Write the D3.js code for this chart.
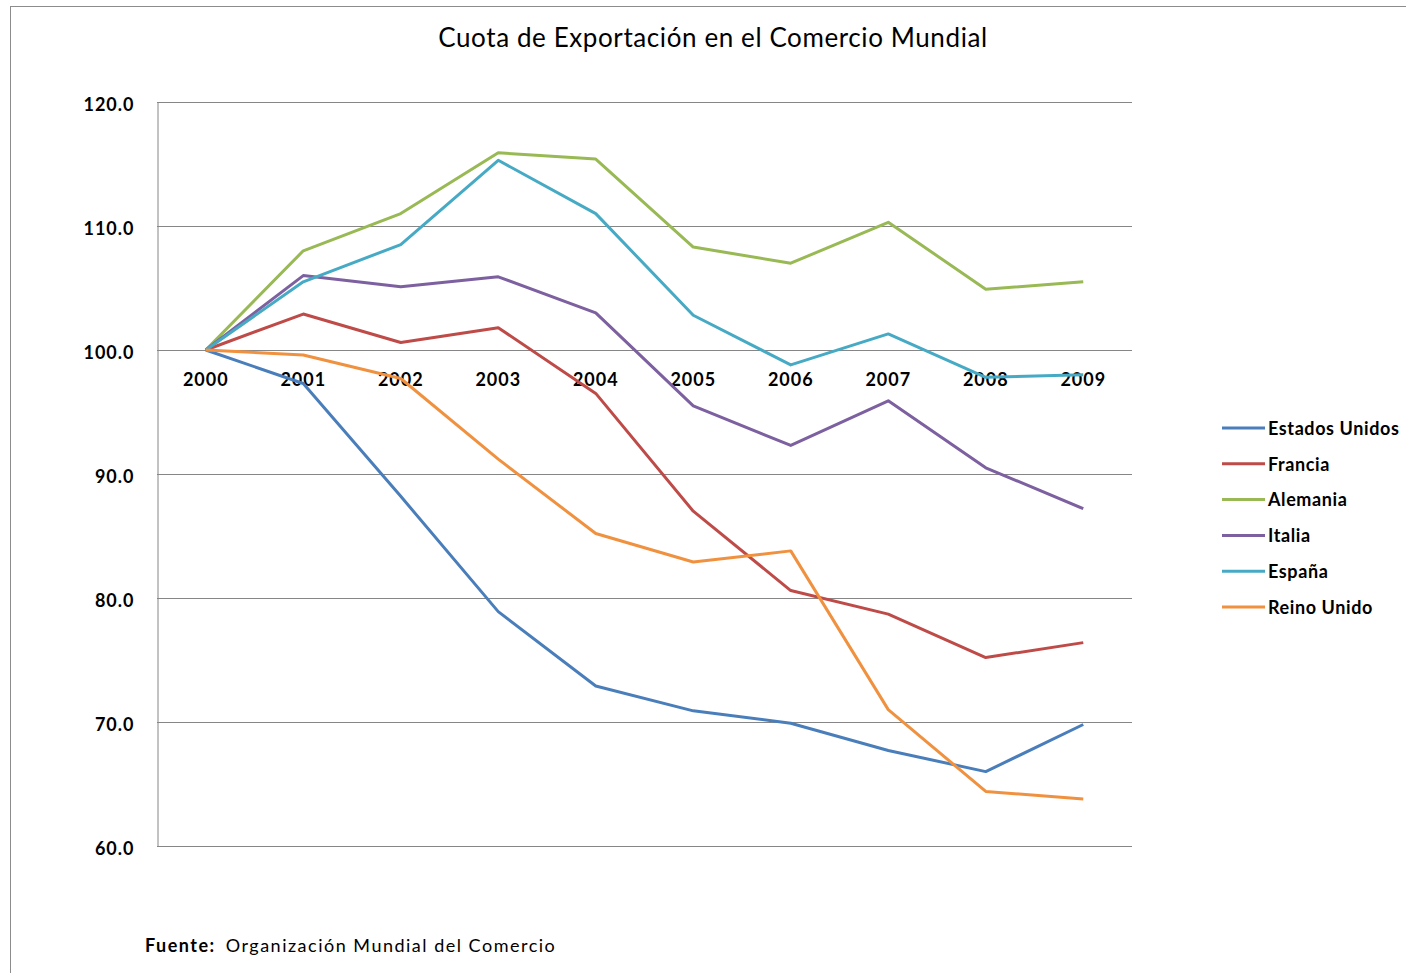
<!DOCTYPE html>
<html>
<head>
<meta charset="utf-8">
<script src="https://cdn.jsdelivr.net/npm/d3@7"></script>
<style>
  body { margin: 0; background: #fff; }
  svg text { font-family: Lato, "Open Sans", sans-serif; fill: #000; }
</style>
</head>
<body>
<div id="chart"></div>
<script>
// data
var years = ["2000","2001","2002","2003","2004","2005","2006","2007","2008","2009"];
var seriesNames = ["Estados Unidos","Francia","Alemania","Italia","España","Reino Unido"];
var seriesColors = ["#4A7EBB","#BE4B48","#98B954","#7D60A0","#46AAC5","#F0913F"];

var estadosUnidos = [100, 97.3, 88.2, 78.9, 72.9, 70.9, 69.9, 67.7, 66.0, 69.8];
var francia       = [100, 102.9, 100.6, 101.8, 96.5, 87.0, 80.6, 78.7, 75.2, 76.4];
var alemania      = [100, 108.0, 111.0, 115.9, 115.4, 108.3, 107.0, 110.3, 104.9, 105.5];
var italia        = [100, 106.0, 105.1, 105.9, 103.0, 95.5, 92.3, 95.9, 90.5, 87.2];
var espana        = [100, 105.5, 108.5, 115.3, 111.0, 102.8, 98.8, 101.3, 97.8, 98.0];
var reinoUnido    = [100, 99.6, 97.7, 91.2, 85.2, 82.9, 83.8, 71.0, 64.4, 63.8];

var yTicks = [60, 70, 80, 90, 100, 110, 120];

var allValues = [estadosUnidos, francia, alemania, italia, espana, reinoUnido];

var width = 1406, height = 973;
var plot = {left: 157, right: 1132, top: 102, bottom: 846};

var svg = d3.select("#chart").append("svg")
    .attr("width", width)
    .attr("height", height);

// outer chart border
svg.append("rect")
    .attr("x", 10.5).attr("y", 6.5)
    .attr("width", 1420).attr("height", 1000)
    .attr("fill", "none")
    .attr("stroke", "#8c8c8c")
    .attr("stroke-width", 1);

var x = d3.scaleBand().domain(years).range([plot.left, plot.right]);
var y = d3.scaleLinear().domain([60, 120]).range([plot.bottom, plot.top]);

// gridlines
svg.append("g")
    .selectAll("line")
    .data(yTicks).enter().append("line")
    .attr("x1", plot.left).attr("x2", plot.right)
    .attr("y1", function(d){ return Math.round(y(d)) + 0.5; })
    .attr("y2", function(d){ return Math.round(y(d)) + 0.5; })
    .attr("stroke", "#868686")
    .attr("stroke-width", 1);

// y axis
var yAxis = svg.append("g")
    .attr("transform", "translate(" + (plot.left + 0.5) + ",0)")
    .call(d3.axisLeft(y).tickValues(yTicks).tickFormat(d3.format(".1f")).tickSize(0).tickPadding(23));
yAxis.select(".domain").attr("stroke", "#868686");
yAxis.selectAll("text")
    .attr("dy", "0.45em")
    .style("font-size", "18px")
    .style("font-weight", "bold")
    .style("letter-spacing", "1px")
    .attr("fill", "#000");

// x axis crosses at 100
var xAxis = svg.append("g")
    .attr("transform", "translate(0," + (Math.round(y(100)) + 0.5) + ")")
    .call(d3.axisBottom(x).tickSize(0).tickPadding(23));
xAxis.select(".domain").remove();
xAxis.selectAll("text")
    .style("font-size", "18px")
    .style("font-weight", "bold")
    .style("letter-spacing", "1px")
    .attr("fill", "#000");

// lines
var line = d3.line()
    .x(function(d, i){ return x(years[i]) + x.bandwidth() / 2; })
    .y(function(d){ return y(d); });

svg.append("g")
    .selectAll("path")
    .data(allValues).enter().append("path")
    .attr("d", line)
    .attr("fill", "none")
    .attr("stroke", function(d, i){ return seriesColors[i]; })
    .attr("stroke-width", 3)
    .attr("stroke-linejoin", "round");

// title
svg.append("text")
    .attr("x", 713).attr("y", 47)
    .attr("text-anchor", "middle")
    .style("font-size", "26px")
    .style("letter-spacing", "0.6px")
    .text("Cuota de Exportación en el Comercio Mundial");

// legend
var legend = svg.append("g")
    .selectAll("g")
    .data(seriesNames).enter().append("g")
    .attr("transform", function(d, i){ return "translate(1222," + (428 + i * 35.8) + ")"; });
legend.append("line")
    .attr("x1", 0).attr("x2", 43)
    .attr("stroke", function(d, i){ return seriesColors[i]; })
    .attr("stroke-width", 3);
legend.append("text")
    .attr("x", 46).attr("dy", "0.38em")
    .style("font-size", "18px")
    .style("font-weight", "bold")
    .style("letter-spacing", "0.6px")
    .text(function(d){ return d; });

// footnote
var foot = svg.append("text")
    .attr("x", 145).attr("y", 952)
    .style("font-size", "18px")
    .style("letter-spacing", "1.5px");
foot.append("tspan").style("font-weight", "bold").text("Fuente:");
foot.append("tspan").attr("dx", 10).text("Organización Mundial del Comercio");
</script>
</body>
</html>
